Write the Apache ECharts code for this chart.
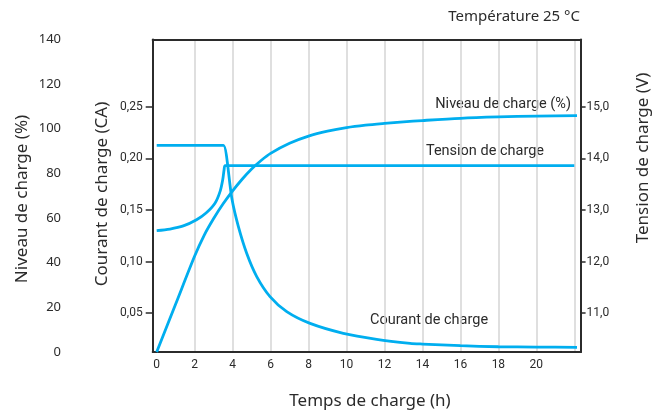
<!DOCTYPE html>
<html>
<head>
<meta charset="utf-8">
<script src="https://cdn.jsdelivr.net/npm/echarts@6/dist/echarts.min.js"></script>
<style>html,body{margin:0;padding:0;background:#fff}#c{width:659px;height:412px}</style>
</head>
<body>
<div id="c"></div>
<script>
// ---- data ----
const levelTime   = [0, 1, 2, 2.5, 3, 3.5, 4, 4.5, 5, 5.5, 6, 7, 8, 9, 10, 11, 12, 13, 14, 16, 18, 20, 22.3];
const levelValues = [0, 21.5, 43, 52.3, 59.8, 66.4, 72.2, 77.4, 82.0, 85.8, 89.0, 93.5, 96.7, 98.9, 100.5, 101.6, 102.4, 103.1, 103.7, 104.7, 105.3, 105.7, 105.9];

const currentTime   = [0, 3.4, 3.52, 3.97, 4.3, 4.74, 5.27, 5.97, 6.85, 8.08, 9.83, 11.59, 13.35, 14, 16, 18, 20, 22.3];
const currentValues = [0.2126, 0.2126, 0.2126, 0.160, 0.134, 0.108, 0.0854, 0.066, 0.0514, 0.040, 0.0304, 0.0246, 0.0207, 0.0200, 0.0184, 0.0174, 0.0171, 0.0168];

const voltageTime   = [0, 0.7, 1.4, 2.1, 2.6, 3.07, 3.34, 3.48, 3.55, 3.6, 3.75, 22];
const voltageValues = [12.60, 12.63, 12.69, 12.81, 12.94, 13.13, 13.36, 13.59, 13.78, 13.86, 13.86, 13.86];

const caTicks  = [0.05, 0.10, 0.15, 0.20, 0.25];
const vTicks   = [11, 12, 13, 14, 15];
const hourTicks = [0, 2, 4, 6, 8, 10, 12, 14, 16, 18, 20];

const BLUE = '#00aeef';
const INK = '#2b2b2b';

const pairs = (xs, ys) => xs.map((x, i) => [x, ys[i]]);

const chart = echarts.init(document.getElementById('c'));
chart.setOption({
  animation: false,
  grid: [
    {left: 156.7, right: 84.7, top: 39.5, bottom: 60, outerBoundsMode: 'none'},
    {left: 152.7, right: 78, top: 39.5, bottom: 60, outerBoundsMode: 'none'}
  ],
  xAxis: [
    {
      gridIndex: 0, type: 'value', min: 0, max: 22, interval: 2,
      axisLine: {show: false}, axisTick: {show: false},
      splitLine: {show: true, showMinLine: false, lineStyle: {color: '#d4d4d4', width: 1.5}},
      axisLabel: {
        margin: 7, color: INK, fontFamily: 'Roboto', fontSize: 12,
        formatter: v => hourTicks.indexOf(v) >= 0 ? String(v) : ''
      }
    },
    {
      gridIndex: 1, type: 'value', min: 0, max: 1, position: 'bottom',
      axisLine: {show: true, lineStyle: {color: INK, width: 2}},
      axisTick: {show: false}, axisLabel: {show: false}, splitLine: {show: false}
    },
    {
      gridIndex: 1, type: 'value', min: 0, max: 1, position: 'top',
      axisLine: {show: true, lineStyle: {color: INK, width: 2}},
      axisTick: {show: false}, axisLabel: {show: false}, splitLine: {show: false}
    }
  ],
  yAxis: [
    {
      gridIndex: 0, type: 'value', position: 'left', offset: 87.7,
      min: 0, max: 140, interval: 20,
      axisLine: {show: false}, axisTick: {show: false}, splitLine: {show: false},
      axisLabel: {margin: 8, color: INK, fontFamily: 'Noto Sans', fontSize: 13}
    },
    {
      gridIndex: 0, type: 'value', position: 'left', offset: 4,
      min: 0.0123, max: 0.3152,
      axisLine: {show: true, onZero: false, lineStyle: {color: INK, width: 2}},
      axisTick: {show: true, length: 7, customValues: caTicks, lineStyle: {color: INK, width: 1.5}},
      splitLine: {show: false},
      axisLabel: {
        margin: 10, color: INK, fontFamily: 'Roboto', fontSize: 12, customValues: caTicks,
        formatter: v => v.toFixed(2).replace('.', ',')
      }
    },
    {
      gridIndex: 0, type: 'value', position: 'right', offset: 6.3,
      min: 10.246, max: 16.304,
      axisLine: {show: true, onZero: false, lineStyle: {color: INK, width: 2}},
      axisTick: {show: true, length: 5, customValues: vTicks, lineStyle: {color: INK, width: 1.5}},
      splitLine: {show: false},
      axisLabel: {
        margin: 6, color: INK, fontFamily: 'Roboto', fontSize: 12, customValues: vTicks,
        formatter: v => v.toFixed(1).replace('.', ',')
      }
    },
    {gridIndex: 1, type: 'value', min: 0, max: 1, show: false}
  ],
  series: [
    {
      name: 'Niveau de charge (%)', type: 'line', xAxisIndex: 0, yAxisIndex: 0,
      data: pairs(levelTime, levelValues), smooth: 0.3, showSymbol: false, clip: false,
      lineStyle: {color: BLUE, width: 2.8}
    },
    {
      name: 'Courant de charge', type: 'line', xAxisIndex: 0, yAxisIndex: 1,
      data: pairs(currentTime, currentValues), smooth: 0.3, showSymbol: false, clip: false,
      lineStyle: {color: BLUE, width: 2.8}
    },
    {
      name: 'Tension de charge', type: 'line', xAxisIndex: 0, yAxisIndex: 2,
      data: pairs(voltageTime, voltageValues), smooth: 0.3, showSymbol: false, clip: false,
      lineStyle: {color: BLUE, width: 2.8}
    }
  ],
  graphic: [
    {type: 'text', right: 79, top: 9, style: {text: 'Température 25 °C', fill: INK, font: '15px "Noto Sans"'}},
    {type: 'text', x: 571, y: 104, style: {text: 'Niveau de charge (%)', fill: INK, font: '14.5px Roboto', align: 'right', verticalAlign: 'middle'}},
    {type: 'text', x: 544, y: 151, style: {text: 'Tension de charge', fill: INK, font: '14.5px Roboto', align: 'right', verticalAlign: 'middle'}},
    {type: 'text', x: 370, y: 320, style: {text: 'Courant de charge', fill: INK, font: '14.5px Roboto', align: 'left', verticalAlign: 'middle'}},
    {type: 'text', x: 370, y: 401, style: {text: 'Temps de charge (h)', fill: INK, font: '17px "Noto Sans"', align: 'center', verticalAlign: 'middle'}},
    {type: 'text', x: 22, y: 199, rotation: Math.PI / 2, style: {text: 'Niveau de charge (%)', fill: INK, font: '17px "Noto Sans"', align: 'center', verticalAlign: 'middle'}},
    {type: 'text', x: 102, y: 194, rotation: Math.PI / 2, style: {text: 'Courant de charge (CA)', fill: INK, font: '17px "Noto Sans"', align: 'center', verticalAlign: 'middle'}},
    {type: 'text', x: 643, y: 158, rotation: Math.PI / 2, style: {text: 'Tension de charge (V)', fill: INK, font: '17px "Noto Sans"', align: 'center', verticalAlign: 'middle'}}
  ]
});
</script>
</body>
</html>
